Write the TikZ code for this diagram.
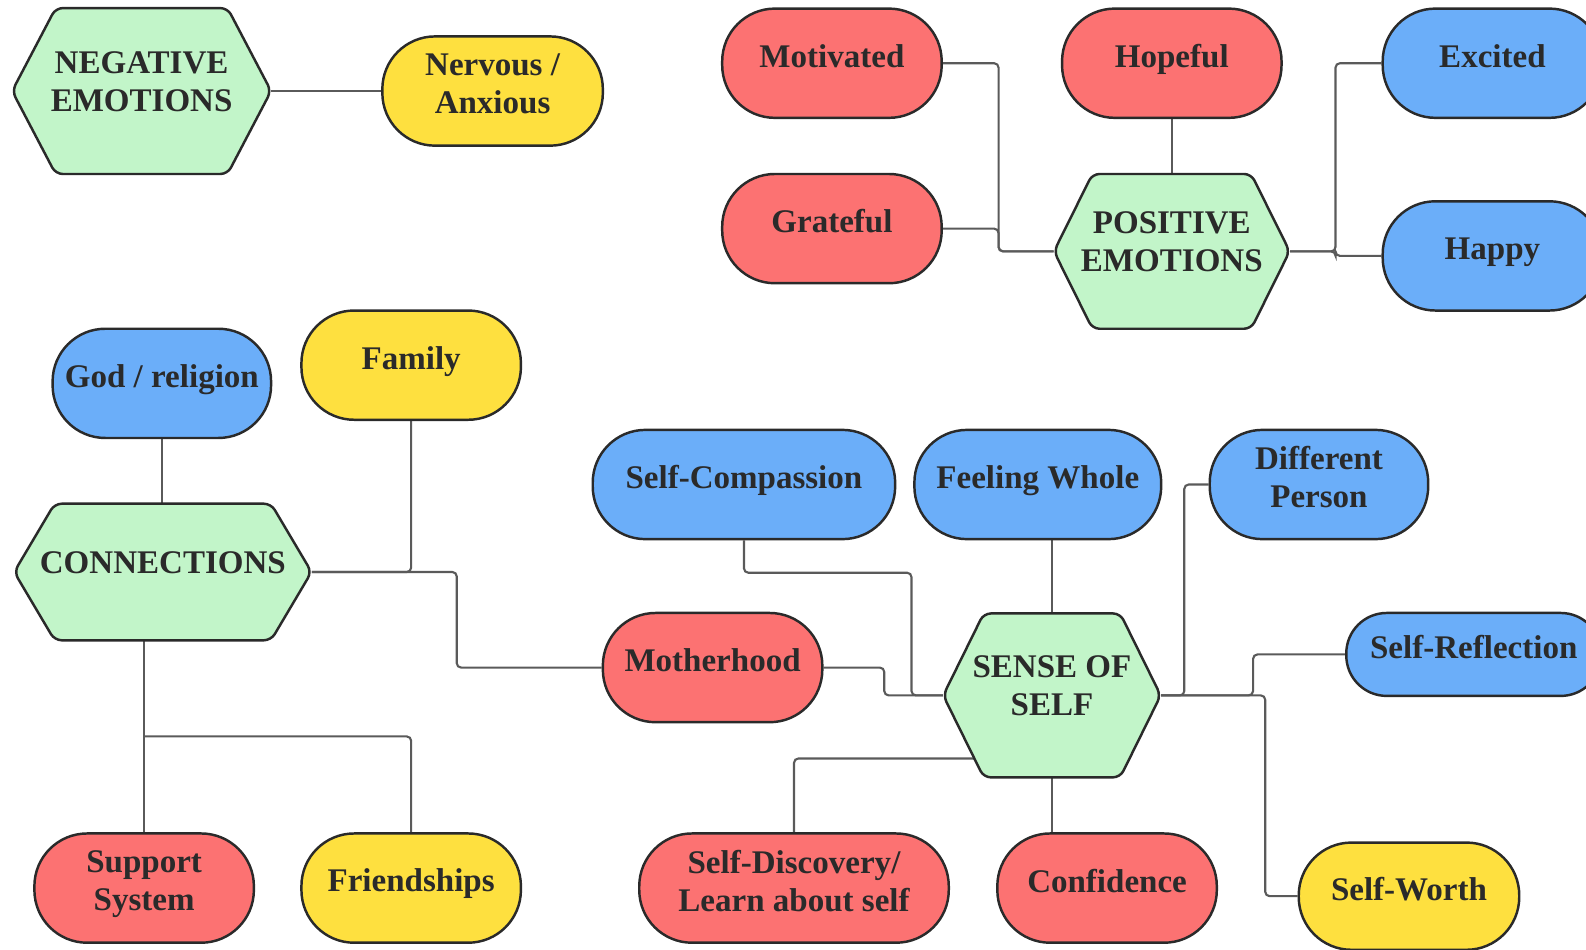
\documentclass[tikz,border=0pt]{standalone}
\usepackage{fontspec}
\setmainfont{Liberation Serif}
\usetikzlibrary{calc,backgrounds}

\definecolor{mint}{HTML}{C2F5C9}
\definecolor{coral}{HTML}{FC7272}
\definecolor{sky}{HTML}{6BAEF9}
\definecolor{sun}{HTML}{FEE03F}
\definecolor{ink}{HTML}{2A2A2A}
\definecolor{wirec}{HTML}{5A5A5A}

% one unit of the picture
\newcommand\pxu{0.02023cm}

% hexagon: name, x, y, half width, half height, tip, text
\newcommand\hexnode[7]{%
  \filldraw[hexline] ({#2-#4},#3) -- ({#2-#4+#6},{#3-#5}) -- ({#2+#4-#6},{#3-#5})
    -- ({#2+#4},#3) -- ({#2+#4-#6},{#3+#5}) -- ({#2-#4+#6},{#3+#5}) -- cycle;
  \node[hexlabel, minimum width={2*#4*\pxu}, minimum height={2*#5*\pxu}] (#1) at (#2,#3) {#7};}

\tikzset{
  txt/.style={font=\bfseries\fontsize{18.8}{21.5}\selectfont, text=ink, align=center, inner sep=0pt},
  pill/.style={txt, draw=ink, line width=1.4pt, rounded corners=30pt,
    minimum height=108*\pxu, minimum width=#1*\pxu, text depth=8.6pt},
  pill/.default=217,
  hexline/.style={fill=mint, draw=ink, line width=1.4pt, rounded corners=4pt},
  hexlabel/.style={txt, text depth=10.8pt},
  wire/.style={draw=wirec, line width=1.2pt, rounded corners=2.5pt},
}

\begin{document}
\begin{tikzpicture}[x=\pxu, y=-\pxu]
  \clip (0,0) rectangle (1568,939);

  % centre shapes
  \hexnode{neg}{140}{90}{128}{82}{43}{NEGATIVE\\EMOTIONS}
  \hexnode{pos}{1158.5}{248.5}{116.5}{76.5}{38}{POSITIVE\\EMOTIONS}
  \hexnode{conn}{161}{565.5}{147}{67.5}{40}{CONNECTIONS}
  \hexnode{sense}{1040}{687.5}{107.5}{81}{40}{SENSE OF\\SELF}

  % emotions
  \node[pill=218, fill=sun] (nervous) at (487,90) {Nervous /\\Anxious};
  \node[pill, fill=coral] (motiv) at (822.5,62.5) {Motivated};
  \node[pill, fill=coral] (hopeful) at (1158.5,62.5) {Hopeful};
  \node[pill, fill=sky] (excited) at (1475.5,62.5) {Excited};
  \node[pill, fill=coral] (grateful) at (822.5,226) {Grateful};
  \node[pill, fill=sky] (happy) at (1475.5,253) {Happy};

  % connections
  \node[pill=216, fill=sky] (god) at (160,379) {God / religion};
  \node[pill, fill=sun] (family) at (406.5,361) {Family};
  \node[pill, fill=coral] (mother) at (704.5,660) {Motherhood};
  \node[pill, fill=coral] (support) at (142.5,878) {Support\\System};
  \node[pill, fill=sun] (friend) at (406.5,878) {Friendships};

  % sense of self
  \node[pill=299, fill=sky] (selfcomp) at (735.5,479) {Self-Compassion};
  \node[pill=244, fill=sky] (feeling) at (1026,479) {Feeling Whole};
  \node[pill=216, fill=sky] (different) at (1304,479) {Different\\Person};
  \node[pill=252, fill=sky, minimum height=82*\pxu, rounded corners=23pt] (selfrefl) at (1457,647) {Self-Reflection};
  \node[pill=306, fill=coral] (selfdisc) at (785,878) {Self-Discovery/\\Learn about self};
  \node[pill, fill=coral] (confidence) at (1094.5,878) {Confidence};
  \node[pill=218, fill=sun, minimum height=106*\pxu] (selfworth) at (1393,886) {Self-Worth};

  \begin{scope}[on background layer]
    \draw[wire] (neg.east) -- (nervous.west);

    \draw[wire] (motiv.east) -- ++(55,0) |- (pos.west);
    \draw[wire] (grateful.east) -- ++(55,0) |- (pos.west);
    \draw[wire] (hopeful.south) -- (pos.north);
    \draw[wire] (pos.east) -- ++(45,0) |- (excited.west);
    \draw[wire] (pos.east) -- ++(45,0) |- (happy.west);

    \draw[wire] (god.south) -- (god.south |- conn.north);
    \draw[wire] (conn.east) -| (family.south);
    \draw[wire] (conn.east) -| ($(conn.east)!.5!(mother.west)$) |- (mother.west);
    \draw[wire] (support.north |- conn.south) -- (support.north);
    \draw[wire] ($(support.north |- conn.south)!.5!(support.north)$) -| (friend.north);

    \draw[wire] (selfcomp.south) -- ++(0,32) -| ($(sense.west)+(-31,0)$) -- (sense.west);
    \draw[wire] (mother.east) -- ++(60,0) |- (sense.west);
    \draw[wire] (feeling.south -| sense.north) -- (sense.north);
    \draw[wire] (sense.east) -- ++(23,0) |- (different.west);
    \draw[wire] (sense.east) -- ++(91,0) |- (selfrefl.west);
    \draw[wire] (sense.east) -- ++(103,0) |- (selfworth.west);
    \draw[wire] (sense.south) -- (sense.south |- confidence.north);
    \draw[wire] (selfdisc.north) |- ($(sense.south)+(-77,-19)$);
  \end{scope}
\end{tikzpicture}
\end{document}
